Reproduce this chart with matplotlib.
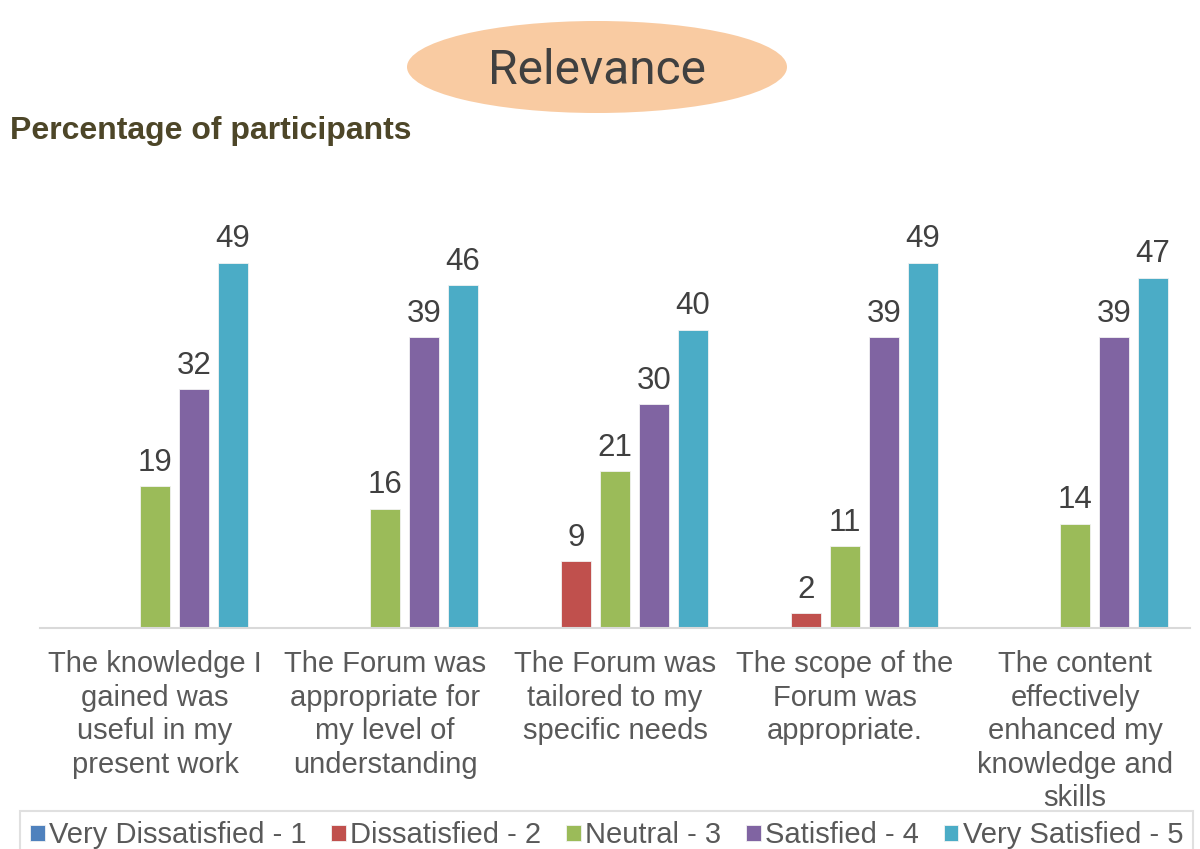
import matplotlib.pyplot as plt
from matplotlib.patches import Ellipse
import numpy as np

plt.rcParams['font.family'] = ['Liberation Sans', 'DejaVu Sans']

categories = ["The knowledge I\ngained was\nuseful in my\npresent work",
              "The Forum was\nappropriate for\nmy level of\nunderstanding",
              "The Forum was\ntailored to my\nspecific needs",
              "The scope of the\nForum was\nappropriate.",
              "The content\neffectively\nenhanced my\nknowledge and\nskills"]
series = ["Very Dissatisfied - 1", "Dissatisfied - 2", "Neutral - 3",
          "Satisfied - 4", "Very Satisfied - 5"]
very_dissatisfied = [0, 0, 0, 0, 0]
dissatisfied = [0, 0, 9, 2, 0]
neutral = [19, 16, 21, 11, 14]
satisfied = [32, 39, 30, 39, 39]
very_satisfied = [49, 46, 40, 49, 47]
colors = ["#4F81BD", "#C0504D", "#9BBB59", "#8064A2", "#4BACC6"]

values = [very_dissatisfied, dissatisfied, neutral, satisfied, very_satisfied]

fig = plt.figure(figsize=(12, 8.49), dpi=100)
ax = fig.add_axes([40 / 1200, 221 / 849, 1150 / 1200, 410 / 849])

x = np.arange(len(categories))
step = 39 / 230
width = 30 / 230
handles = []
for i, (name, vals, c) in enumerate(zip(series, values, colors)):
    bars = ax.bar(x + (i - 2) * step, vals, width, color=c, edgecolor="#F2F2F2",
                  linewidth=0.6, label=name)
    handles.append(bars)
    for b, v in zip(bars, vals):
        if v == 0:
            continue
        ax.annotate(str(v), (b.get_x() + b.get_width() / 2, v), xytext=(0, 6),
                    textcoords="offset points", ha="center", va="bottom",
                    fontsize=22.5, color="#404040")

ax.set_xlim(-0.5, 4.5)
ax.set_ylim(0, 55)
ax.set_yticks([])
ax.set_xticks(x)
ax.set_xticklabels(categories, fontsize=21, color="#595959")
for t in ax.get_xticklabels():
    t.set_linespacing(1.25)
ax.tick_params(axis="x", length=0, pad=16)
for s in ["top", "left", "right"]:
    ax.spines[s].set_visible(False)
ax.spines["bottom"].set_color("#D9D9D9")
ax.spines["bottom"].set_linewidth(1.5)

# title bubble
fig.patches.append(Ellipse((597 / 1200, 1 - 67 / 849), 380 / 1200, 92 / 849,
                           transform=fig.transFigure, facecolor="#F9CBA2",
                           edgecolor="none"))
fig.text(597 / 1200, 1 - 71 / 849, "Relevance", ha="center", va="center",
         fontsize=34.5, color="#404040", family="Roboto")
fig.text(10 / 1200, 1 - 131 / 849, "Percentage of participants", ha="left",
         va="center", fontsize=23, fontweight="bold", color="#4D4628")

leg = fig.legend(handles=handles, loc="upper left", ncol=5,
                 bbox_to_anchor=(20 / 1200, 1 - 811 / 849), fontsize=21,
                 handlelength=0.5, handleheight=0.5, handletextpad=0.15,
                 columnspacing=0.85, borderpad=0.35, fancybox=False,
                 edgecolor="#D9D9D9", labelcolor="#595959", borderaxespad=0)
leg.get_frame().set_linewidth(1.5)

fig.savefig("out.png", dpi=100)
